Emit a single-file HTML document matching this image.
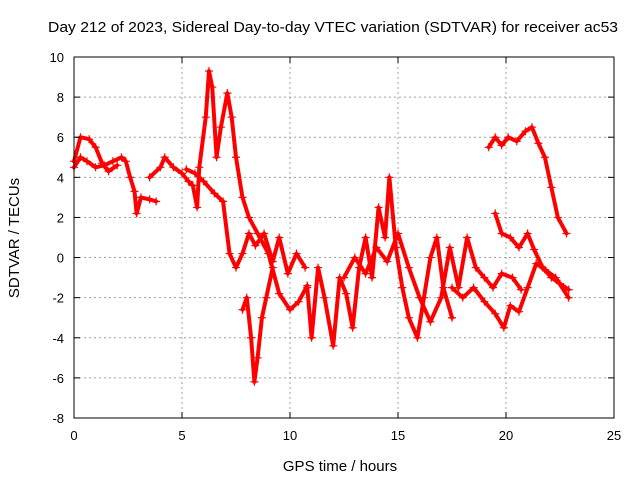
<!DOCTYPE html>
<html><head><meta charset="utf-8"><style>
body{margin:0;background:#fff;}
svg{display:block;font-family:"Liberation Sans",sans-serif;}
</style></head><body>
<svg id="chart" width="640" height="480" xmlns="http://www.w3.org/2000/svg">
<text x="333" y="32" font-size="15" text-anchor="middle" textLength="570" lengthAdjust="spacingAndGlyphs">Day 212 of 2023, Sidereal Day-to-day VTEC variation (SDTVAR) for receiver ac53</text>
<text x="340" y="471" font-size="15" text-anchor="middle">GPS time / hours</text>
<text x="19" y="238" font-size="15" text-anchor="middle" transform="rotate(-90 19 238)">SDTVAR / TECUs</text>
<g id="grid"></g>
<g id="marks"></g>
<rect x="74" y="57" width="540" height="361" fill="none" stroke="#000" stroke-width="1"/>
<g id="ticks"></g>
</svg>
<script>
const xTicks=[0,5,10,15,20,25];
const yTicks=[-8,-6,-4,-2,0,2,4,6,8,10];
const trackA=[[0,4.5],[0.3,5],[0.6,4.8],[1,4.5],[1.4,4.6],[1.8,4.8],[2.2,5],[2.4,4.8],[2.6,4],[2.8,3.3],[2.9,2.2],[3.1,3],[3.5,2.9],[3.8,2.8]];
const trackB=[[0,4.8],[0.3,6],[0.7,5.9],[1,5.5],[1.3,4.7],[1.6,4.3],[2,4.6]];
const trackC=[[3.5,4],[4,4.5],[4.2,5],[4.6,4.5],[5,4.2],[5.3,3.8],[5.5,3.6],[5.7,2.5],[5.8,4.5],[6.1,7],[6.25,9.3],[6.4,8.5],[6.6,5],[6.8,6.5],[7.1,8.2],[7.3,7],[7.5,5],[7.8,3],[8.1,2],[8.5,1.2],[9,0.2],[9.5,-1.8],[10,-2.6],[10.4,-2.2],[10.8,-1.4]];
const trackD=[[5.2,4.4],[5.6,4.2],[6,3.8],[6.5,3.2],[6.9,2.8],[7.2,0.2],[7.5,-0.5],[7.8,0.2],[8.1,1.2],[8.4,0.6],[8.8,1.2],[9.2,-0.2],[9.5,1],[9.9,-0.8],[10.3,0.2],[10.7,-0.5]];
const trackE=[[7.8,-2.6],[8.0,-2],[8.2,-4],[8.35,-6.2],[8.5,-5],[8.7,-3],[8.9,-2],[9.2,-0.5]];
const trackF=[[10.8,-1.5],[11,-4],[11.3,-0.5],[11.6,-2],[12,-4.4],[12.3,-1],[12.6,-1.8],[12.9,-3.5],[13.2,-0.5],[13.5,1],[13.8,-1],[14.1,2.5],[14.4,1],[14.6,4],[14.9,0.5],[15.2,-1.5],[15.5,-3],[15.9,-4],[16.2,-2],[16.5,0],[16.8,1],[17.1,-1.5],[17.5,-3]];
const trackG=[[12.5,-1],[13,0],[13.5,-0.8],[14,0.5],[14.5,-0.2],[15,1.2],[15.5,-0.5],[16,-2],[16.5,-3.2],[17,-2],[17.4,0.5],[17.8,-1.5],[18.2,1],[18.6,-0.5],[19,-1],[19.4,-1.5],[19.8,-0.8],[20.3,-1],[20.7,-1.6]];
const trackH=[[19.2,5.5],[19.5,6],[19.8,5.6],[20.1,6],[20.5,5.8],[20.9,6.3],[21.2,6.5],[21.5,5.7],[21.8,5],[22.1,3.5],[22.4,2],[22.8,1.2]];
const trackI=[[19.5,2.2],[19.8,1.2],[20.2,1],[20.6,0.5],[21,1.2],[21.3,0.4],[21.7,-0.5],[22.1,-1],[22.5,-1.3],[22.9,-1.6]];
const trackJ=[[17.5,-1.5],[18,-2],[18.5,-1.5],[19,-2.2],[19.5,-2.8],[19.9,-3.5],[20.2,-2.4],[20.6,-2.7],[21,-1.5],[21.4,-0.3],[21.8,-0.6],[22.3,-1],[22.9,-2]];
const tracks=[trackA,trackB,trackC,trackD,trackE,trackF,trackG,trackH,trackI,trackJ];
const X0=74,X1=614,Y0=418,Y1=57;
const sx=v=>X0+(v-0)/25*(X1-X0);
const sy=v=>Y0-(v+8)/18*(Y0-Y1);
const NS="http://www.w3.org/2000/svg";
const grid=document.getElementById('grid'),ticks=document.getElementById('ticks'),marks=document.getElementById('marks');
function mk(tag,attrs,parent){const e=document.createElementNS(NS,tag);for(const k in attrs)e.setAttribute(k,attrs[k]);parent.appendChild(e);return e;}
xTicks.forEach(t=>{const x=sx(t);
 if(t>0&&t<25){const l=mk('line',{x1:x,x2:x,y1:Y1,y2:Y0,stroke:'#a0a0a0','stroke-dasharray':'2,3'},grid);}
 mk('line',{x1:x,x2:x,y1:Y0,y2:Y0-6,stroke:'#000'},ticks);mk('line',{x1:x,x2:x,y1:Y1,y2:Y1+6,stroke:'#000'},ticks);
 const tx=mk('text',{x:x,y:Y0+22,'font-size':13,'text-anchor':'middle'},ticks);tx.textContent=t;
 });
yTicks.forEach(t=>{const y=sy(t);
 if(t>-8&&t<10){const l=mk('line',{x1:X0,x2:X1,y1:y,y2:y,stroke:'#a0a0a0','stroke-dasharray':'2,3'},grid);}
 mk('line',{x1:X0,x2:X0+6,y1:y,y2:y,stroke:'#000'},ticks);mk('line',{x1:X1,x2:X1-6,y1:y,y2:y,stroke:'#000'},ticks);
 const tx=mk('text',{x:X0-10,y:y+5,'font-size':13,'text-anchor':'end'},ticks);tx.textContent=t;
 });
tracks.forEach(tr=>{
 const p=mk('polyline',{points:tr.map(d=>sx(d[0])+','+sy(d[1])).join(' '),fill:'none',stroke:'#f00','stroke-width':4,'stroke-linejoin':'round','stroke-linecap':'round'},marks);
 
 
 tr.forEach(d=>{const x=sx(d[0]),y=sy(d[1]);
  const m=mk('path',{d:`M${x-4},${y}H${x+4}M${x},${y-4}V${y+4}`,stroke:'#f00','stroke-width':1.2},marks);
  
  });
});
</script>
</body></html>
